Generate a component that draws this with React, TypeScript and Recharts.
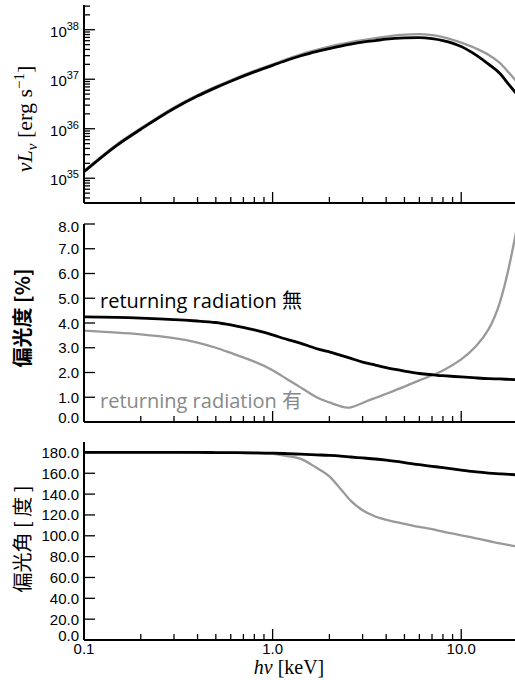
import React from 'react';
import { LineChart, Line, XAxis, YAxis, Label, ReferenceDot } from 'recharts';

// photon energy grid [keV]
const energy = [0.1, 0.15, 0.2, 0.3, 0.4, 0.5, 0.6, 0.8, 1.0, 1.2, 1.4, 1.7, 2.0, 2.3, 2.6, 3.0, 3.5, 4.0, 5.0, 6.0, 7.0, 8.0, 10, 12, 14, 16, 18, 20];

// nu L_nu [erg/s]
const lumNoReturn = [1.35e35, 4.68e35, 9.77e35, 2.57e36, 4.57e36, 6.76e36, 9.12e36, 1.41e37, 1.91e37, 2.45e37, 2.95e37, 3.63e37, 4.17e37, 4.68e37, 5.13e37, 5.62e37, 6.03e37, 6.46e37, 6.84e37, 6.92e37, 6.61e37, 6.03e37, 4.57e37, 3.06e37, 2.0e37, 1.32e37, 7.59e36, 4.68e36];
const lumReturn = [1.41e35, 4.9e35, 1.02e36, 2.69e36, 4.79e36, 7.08e36, 9.55e36, 1.48e37, 2.0e37, 2.57e37, 3.16e37, 3.89e37, 4.57e37, 5.13e37, 5.62e37, 6.17e37, 6.76e37, 7.24e37, 7.94e37, 8.13e37, 7.76e37, 7.08e37, 5.5e37, 4.17e37, 3.09e37, 2.14e37, 1.32e37, 8.32e36];

// polarization degree [%]
const degNoReturn = [4.25, 4.23, 4.2, 4.14, 4.08, 4.02, 3.92, 3.72, 3.52, 3.33, 3.19, 2.97, 2.83, 2.69, 2.57, 2.42, 2.3, 2.2, 2.06, 1.96, 1.91, 1.87, 1.82, 1.78, 1.75, 1.74, 1.72, 1.71];
const degReturn = [3.69, 3.61, 3.54, 3.39, 3.21, 3.0, 2.79, 2.44, 2.09, 1.72, 1.41, 1.01, 0.79, 0.63, 0.59, 0.77, 0.97, 1.14, 1.43, 1.68, 1.88, 2.08, 2.53, 3.07, 3.76, 4.81, 6.34, 8.08];

// polarization angle [deg]
const angNoReturn = [180, 180, 180, 180, 180, 179.9, 179.8, 179.6, 179.3, 178.8, 178.3, 177.7, 177.2, 176.5, 175.6, 174.7, 173.7, 172.6, 170.3, 168.2, 166.7, 165.4, 163.1, 161.3, 160.2, 159.5, 158.9, 158.4];
const angReturn = [180, 180, 180, 180, 179.9, 179.8, 179.6, 179.2, 178.6, 176.5, 174.0, 165.5, 157.0, 144.7, 133.5, 124.5, 118.5, 115.3, 111.5, 108.5, 106.3, 104.0, 100.5, 97.5, 95.0, 92.7, 91.0, 89.5];

const xMajor = [0.1, 1, 10];
const xMinor = [0.2, 0.3, 0.4, 0.5, 0.6, 0.7, 0.8, 0.9, 2, 3, 4, 5, 6, 7, 8, 9];
const lumMajor = [1e35, 1e36, 1e37, 1e38];
const lumMinor = [4e34, 5e34, 6e34, 7e34, 8e34, 9e34, 2e35, 3e35, 4e35, 5e35, 6e35, 7e35, 8e35, 9e35, 2e36, 3e36, 4e36, 5e36, 6e36, 7e36, 8e36, 9e36, 2e37, 3e37, 4e37, 5e37, 6e37, 7e37, 8e37, 9e37, 2e38, 3e38];
const degTicks = [0, 1, 2, 3, 4, 5, 6, 7, 8];
const angTicks = [0, 20, 40, 60, 80, 100, 120, 140, 160, 180];

const rows = energy.map((e, i) => ({
  e,
  lumNo: lumNoReturn[i],
  lumYes: lumReturn[i],
  degNo: degNoReturn[i],
  degYes: degReturn[i],
  angNo: angNoReturn[i],
  angYes: angReturn[i],
}));

const xTicks = [...xMajor, ...xMinor].sort((a, b) => a - b);
const lumTicks = [...lumMajor, ...lumMinor].sort((a, b) => a - b);

const SANS = "'Liberation Sans', Arial, Helvetica, sans-serif";
const SERIF = "'Liberation Serif', 'Times New Roman', serif";
const NOTE = "'Open Sans', 'Noto Sans CJK JP', sans-serif";
const CJK = "'Noto Sans CJK JP', sans-serif";
const GRAY = '#999';

type Side = 'left' | 'right' | 'top' | 'bottom';

// inward tick marks, long for majors; labels only where a formatter is given
const edgeTick = (side: Side, majors: number[], fmt?: (v: number) => React.ReactNode, nudge?: (v: number) => number) =>
  (p: any) => {
    const v = p.payload.value;
    const major = majors.includes(v);
    const len = major ? 11 : 6;
    const { x, y } = p;
    let line = null;
    if (side === 'left') line = <line x1={x} x2={x + len} y1={y} y2={y} />;
    if (side === 'right') line = <line x1={x} x2={x - len} y1={y} y2={y} />;
    if (side === 'top') line = <line x1={x} x2={x} y1={y} y2={y + len} />;
    if (side === 'bottom') line = <line x1={x} x2={x} y1={y} y2={y - len} />;
    const txt = fmt && major ? fmt(v) : null;
    const dy = nudge ? nudge(v) : 0;
    return (
      <g>
        <g stroke="#000" strokeWidth={1.3}>{line}</g>
        {txt !== null && side === 'left' && (
          <text x={x - 5} y={y + 5.5 + dy} textAnchor="end" fontFamily={SANS} fontSize={15} fill="#000">{txt}</text>
        )}
        {txt !== null && side === 'bottom' && (
          <text x={x} y={y + 14} textAnchor="middle" fontFamily={SANS} fontSize={15} fill="#000">{txt}</text>
        )}
      </g>
    );
  };

const powLabel = (v: number) => (
  <>
    10<tspan dy={-7} fontSize={11}>{Math.round(Math.log10(v))}</tspan>
  </>
);

const axisLine = { stroke: '#000', strokeWidth: 2 };
const xCommon: any = {
  dataKey: 'e', type: 'number', scale: 'log', domain: [0.1, 20], allowDataOverflow: true,
  ticks: xTicks, interval: 0, tickSize: 0, tickMargin: 0, tickLine: false, axisLine,
};
const yCommon: any = { type: 'number', allowDataOverflow: true, interval: 0, tickSize: 0, tickMargin: 0, tickLine: false, axisLine };

const yTitle = (content: React.ReactNode, dx: number, dy: number, font: string, size: number, weight = 'normal') =>
  (props: any) => {
    const vb = props.viewBox;
    const x = vb.x + dx;
    const y = vb.y + dy;
    return (
      <text x={x} y={y} transform={`rotate(-90 ${x} ${y})`} textAnchor="middle" fontFamily={font} fontSize={size} fontWeight={weight} fill="#000">
        {content}
      </text>
    );
  };

const note = (text: string, color: string) => (props: any) => (
  <text x={props.viewBox.x} y={props.viewBox.y} fontFamily={NOTE} fontSize={20} fill={color}>{text}</text>
);

const lineProps = { xAxisId: 'b', yAxisId: 'l', dot: false, isAnimationActive: false, type: 'monotone' as const };

export default function App() {
  return (
    <div style={{ position: 'absolute', left: 0, top: 0, width: 515, height: 680, overflow: 'hidden', background: '#fff' }}>
      <div style={{ position: 'absolute', left: 0, top: 0 }}>
        <LineChart width={520} height={210} data={rows} margin={{ top: 5, right: 2, bottom: 0, left: 0 }}>
          <XAxis {...xCommon} xAxisId="b" orientation="bottom" height={7} tick={edgeTick('bottom', xMajor)} />
          <XAxis {...xCommon} xAxisId="t" orientation="top" height={0} tick={edgeTick('top', xMajor)} />
          <YAxis {...yCommon} yAxisId="l" orientation="left" width={84} scale="log" domain={[3.16e34, 3.16e38]} ticks={lumTicks} tick={edgeTick('left', lumMajor, powLabel, () => 1.5)}>
            <Label content={yTitle(
              <>
                <tspan fontStyle="italic">νL</tspan>
                <tspan fontStyle="italic" fontSize={15} dy={5}>ν</tspan>
                <tspan dy={-5}>{'  [erg s'}</tspan>
                <tspan fontSize={15} dy={-8}>−1</tspan>
                <tspan dy={8}>]</tspan>
              </>, 32, 114, SERIF, 22)} />
          </YAxis>
          <YAxis {...yCommon} yAxisId="r" orientation="right" width={0} scale="log" domain={[3.16e34, 3.16e38]} ticks={lumTicks} tick={edgeTick('right', lumMajor)} />
          <Line {...lineProps} dataKey="lumYes" stroke={GRAY} strokeWidth={2.3} />
          <Line {...lineProps} dataKey="lumNo" stroke="#000" strokeWidth={2.8} />
        </LineChart>
      </div>

      <div style={{ position: 'absolute', left: 0, top: 215 }}>
        <LineChart width={520} height={215} data={rows} margin={{ top: 9, right: 2, bottom: 0, left: 0 }}>
          <XAxis {...xCommon} xAxisId="b" orientation="bottom" height={8} tick={edgeTick('bottom', xMajor)} />
          <XAxis {...xCommon} xAxisId="t" orientation="top" height={0} tick={edgeTick('top', xMajor)} />
          <YAxis {...yCommon} yAxisId="l" orientation="left" width={84} domain={[0, 8]} ticks={degTicks}
            tick={edgeTick('left', degTicks, (v) => v.toFixed(1), (v) => (v === 0 ? -4.5 : v === 8 ? 2 : 0))}>
            <Label content={yTitle('偏光度 [%]', 30, 94, CJK, 20, 'bold')} />
          </YAxis>
          <YAxis {...yCommon} yAxisId="r" orientation="right" width={0} domain={[0, 8]} ticks={degTicks} tick={edgeTick('right', degTicks)} />
          <Line {...lineProps} type="natural" dataKey="degYes" stroke={GRAY} strokeWidth={2.3} />
          <Line {...lineProps} type="natural" dataKey="degNo" stroke="#000" strokeWidth={2.8} />
          <ReferenceDot xAxisId="b" yAxisId="l" x={0.1216} y={4.61} r={0} label={<Label content={note('returning radiation 無', '#000')} />} />
          <ReferenceDot xAxisId="b" yAxisId="l" x={0.1216} y={0.56} r={0} label={<Label content={note('returning radiation 有', '#888')} />} />
        </LineChart>
      </div>

      <div style={{ position: 'absolute', left: 0, top: 435 }}>
        <LineChart width={520} height={245} data={rows} margin={{ top: 7, right: 2, bottom: 0, left: 0 }}>
          <XAxis {...xCommon} xAxisId="b" orientation="bottom" height={40} tick={edgeTick('bottom', xMajor, (v) => (v < 1 ? '0.1' : v.toFixed(1)))}>
            <Label content={(props: any) => (
              <text x={props.viewBox.x + 205} y={props.viewBox.y + 34} textAnchor="middle" fontFamily={SERIF} fontSize={20} fill="#000">
                <tspan fontStyle="italic">hν</tspan>
                <tspan>{'  [keV]'}</tspan>
              </text>
            )} />
          </XAxis>
          <XAxis {...xCommon} xAxisId="t" orientation="top" height={0} tick={edgeTick('top', xMajor)} />
          <YAxis {...yCommon} yAxisId="l" orientation="left" width={84} domain={[0, 190]} ticks={angTicks}
            tick={edgeTick('left', angTicks, (v) => v.toFixed(1), (v) => (v === 0 ? -5 : 0))}>
            <Label content={yTitle('偏光角 [ 度 ]', 30, 97, CJK, 20)} />
          </YAxis>
          <YAxis {...yCommon} yAxisId="r" orientation="right" width={0} domain={[0, 190]} ticks={angTicks} tick={edgeTick('right', angTicks)} />
          <Line {...lineProps} dataKey="angYes" stroke={GRAY} strokeWidth={2.3} />
          <Line {...lineProps} dataKey="angNo" stroke="#000" strokeWidth={2.8} />
        </LineChart>
      </div>
    </div>
  );
}
